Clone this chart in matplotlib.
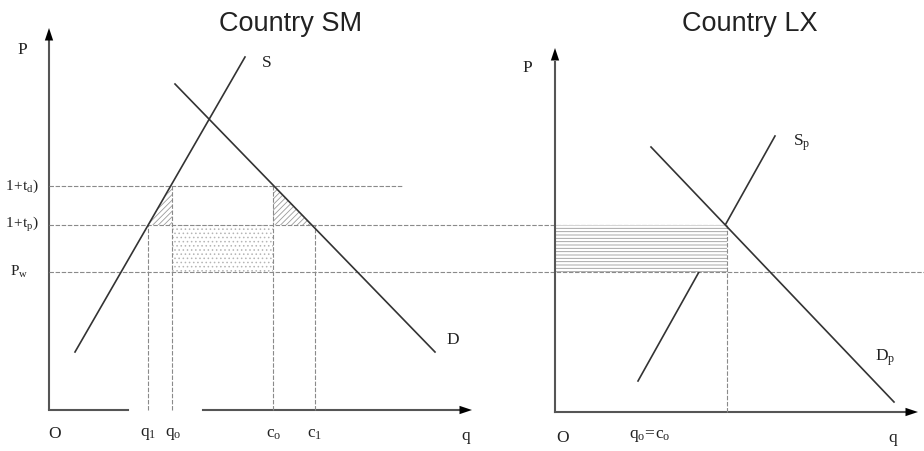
import matplotlib
matplotlib.use("Agg")
import matplotlib.pyplot as plt
from matplotlib.patches import Polygon

plt.rcParams['mathtext.fontset'] = 'custom'
plt.rcParams['mathtext.rm'] = 'Liberation Serif'
plt.rcParams['mathtext.it'] = 'Liberation Serif'
plt.rcParams['hatch.linewidth'] = 0.6

# ---- Country SM (left panel), units: q and P ----
sm_supply_q = [2.6, 19.6]
sm_supply_p = [5.8, 35.3]
sm_demand_q = [12.6, 38.6]
sm_demand_p = [32.6, 5.8]
sm_prices = {'Pw': 13.8, 'tp': 18.5, 'td': 22.4}
sm_qty = {'q1': 9.9, 'q0': 12.3, 'c0': 22.4, 'c1': 26.6}
sm_tri_left_q = [9.9, 12.3, 12.3]
sm_tri_left_p = [18.5, 18.5, 22.4]
sm_tri_right_q = [22.4, 22.4, 26.3]
sm_tri_right_p = [22.4, 18.5, 18.5]

# ---- Country LX (right panel) ----
lx_supply_q = [8.3, 22.0]
lx_supply_p = [3.1, 27.6]
lx_demand_q = [9.6, 33.9]
lx_demand_p = [26.5, 1.0]
lx_pw = 14.0
lx_tp = 18.7
lx_q0 = 17.2

W, H = 924, 451
fig = plt.figure(figsize=(W / 100, H / 100), dpi=100)
axL = fig.add_axes([49 / W, 41 / H, 430 / W, 390 / H])
axR = fig.add_axes([555 / W, 39 / H, 370 / W, 390 / H])
for ax in (axL, axR):
    ax.set_xlim(0, 43 if ax is axL else 37)
    ax.set_ylim(0, 39)
    ax.axis('off')

axis_c = '#555555'
curve_c = '#333333'
dash_c = '#8a8a8a'
serif = 'Liberation Serif'
fs = 12.5

def dashed(ax, x, y):
    ax.plot(x, y, color=dash_c, lw=0.8, ls=(0, (4, 1.5)), clip_on=False, zorder=2)

def arrow(ax, start, end):
    ax.annotate('', xy=end, xytext=start,
                arrowprops=dict(arrowstyle='-|>,head_length=0.9,head_width=0.3',
                                color='black', lw=0, shrinkA=0, shrinkB=0),
                annotation_clip=False)

# ---------- left panel ----------
axL.plot([0, 0], [0, 37.5], color=axis_c, lw=1.5, clip_on=False, solid_capstyle='butt')
arrow(axL, (0, 36), (0, 38.2))
axL.plot([0, 7.9], [0, 0], color=axis_c, lw=1.5, clip_on=False)
axL.plot([15.4, 41.5], [0, 0], color=axis_c, lw=1.5, clip_on=False)
arrow(axL, (40, 0), (42.3, 0))

# price lines (the lower two run across into Country LX)
dashed(axL, [0, 35.4], [sm_prices['td']] * 2)
dashed(axL, [0, 67.8], [sm_prices['tp']] * 2)
dashed(axL, [0, 87.5], [sm_prices['Pw']] * 2)

# quantity lines
dashed(axL, [sm_qty['q1']] * 2, [0, sm_prices['tp']])
dashed(axL, [sm_qty['q0']] * 2, [0, sm_prices['td']])
dashed(axL, [sm_qty['c0']] * 2, [0, sm_prices['td']])
dashed(axL, [sm_qty['c1']] * 2, [0, sm_prices['tp']])

# shaded areas
axL.add_patch(Polygon(list(zip(sm_tri_left_q, sm_tri_left_p)), closed=True,
                      facecolor='none', edgecolor='#9a9a9a', lw=0, hatch='//////', zorder=1))
axL.add_patch(Polygon(list(zip(sm_tri_right_q, sm_tri_right_p)), closed=True,
                      facecolor='none', edgecolor='#9a9a9a', lw=0, hatch='//////', zorder=1))
rect_q = [sm_qty['q0'], sm_qty['c0'], sm_qty['c0'], sm_qty['q0']]
rect_p = [sm_prices['Pw'], sm_prices['Pw'], sm_prices['tp'], sm_prices['tp']]
axL.add_patch(Polygon(list(zip(rect_q, rect_p)), closed=True,
                      facecolor='none', edgecolor='#b5b5b5', lw=0, hatch='....', zorder=1))

axL.plot(sm_supply_q, sm_supply_p, color=curve_c, lw=1.2, clip_on=False, zorder=3)
axL.plot(sm_demand_q, sm_demand_p, color=curve_c, lw=1.2, clip_on=False, zorder=3)

tk = dict(family=serif, fontsize=fs, color='#222222', clip_on=False)
axL.text(-2.7, 36, 'P', ha='center', va='center', **tk)
axL.text(21.8, 34.7, 'S', ha='center', va='center', **tk)
axL.text(40.4, 7.0, 'D', ha='center', va='center', **tk)
axL.text(0.6, -2.4, 'O', ha='center', va='center', **tk)
axL.text(sm_qty['q1'], -2.4, r'$\mathrm{q}_1$', ha='center', va='center', **tk)
axL.text(sm_qty['q0'] + 0.1, -2.4, r'$\mathrm{q}_o$', ha='center', va='center', **tk)
axL.text(sm_qty['c0'] + 0.1, -2.4, r'$\mathrm{c}_o$', ha='center', va='center', **tk)
axL.text(sm_qty['c1'], -2.4, r'$\mathrm{c}_1$', ha='center', va='center', **tk)
axL.text(41.7, -2.6, 'q', ha='center', va='center', **tk)
axL.text(-4.4, sm_prices['td'], r'$1\!+\!\mathrm{t}_{d})$', ha='left', va='center',
         family=serif, fontsize=11, color='#222222', clip_on=False)
axL.text(-4.4, sm_prices['tp'], r'$1\!+\!\mathrm{t}_{p})$', ha='left', va='center',
         family=serif, fontsize=11, color='#222222', clip_on=False)
axL.text(-3.9, sm_prices['Pw'], r'$\mathrm{P}_w$', ha='left', va='center',
         family=serif, fontsize=11, color='#222222', clip_on=False)

# ---------- right panel ----------
axR.plot([0, 0], [0, 35], color=axis_c, lw=1.5, clip_on=False)
arrow(axR, (0, 34), (0, 36.4))
axR.plot([0, 35], [0, 0], color=axis_c, lw=1.5, clip_on=False)
arrow(axR, (34, 0), (36.3, 0))

dashed(axR, [lx_q0] * 2, [0, lx_tp])
axR.plot(lx_supply_q, lx_supply_p, color=curve_c, lw=1.2, clip_on=False, zorder=1)
box_q = [0, lx_q0, lx_q0, 0]
box_p = [lx_pw, lx_pw, lx_tp, lx_tp]
axR.add_patch(Polygon(list(zip(box_q, box_p)), closed=True,
                      facecolor='white', edgecolor='#9a9a9a', lw=0, hatch='-----', zorder=1.5))
axR.plot(lx_demand_q, lx_demand_p, color=curve_c, lw=1.2, clip_on=False, zorder=3)

axR.text(-2.8, 34.4, 'P', ha='center', va='center', **tk)
axR.text(24.7, 26.9, r'$\mathrm{S}_p$', ha='center', va='center', **tk)
axR.text(33.0, 5.4, r'$\mathrm{D}_p$', ha='center', va='center', **tk)
axR.text(0.8, -2.6, 'O', ha='center', va='center', **tk)
axR.text(9.5, -2.4, r'$\mathrm{q}_o\!=\!\mathrm{c}_o$', ha='center', va='center', **tk)
axR.text(33.8, -2.6, 'q', ha='center', va='center', **tk)

# titles
fig.text(291 / W, 1 - 31 / H, 'Country SM', ha='center', va='baseline',
         family='Liberation Sans', fontsize=19.5, color='#222222')
fig.text(750 / W, 1 - 31 / H, 'Country LX', ha='center', va='baseline',
         family='Liberation Sans', fontsize=19.5, color='#222222')

fig.savefig('out.png', dpi=100)
